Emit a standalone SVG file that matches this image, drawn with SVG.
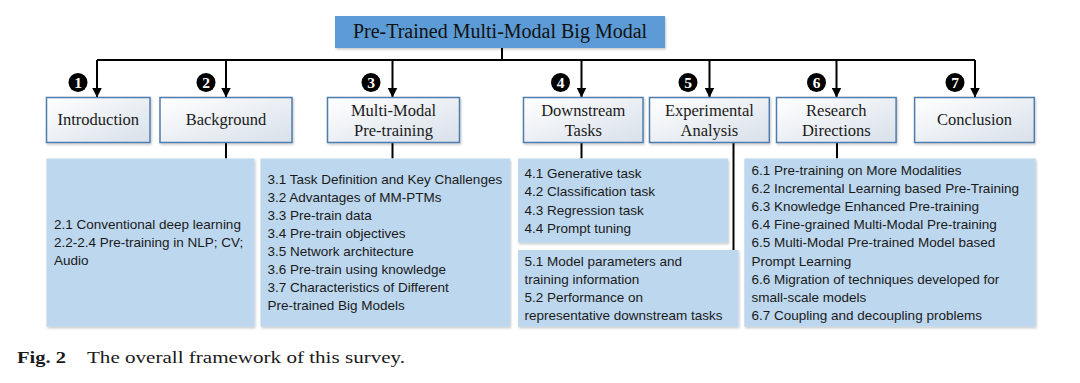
<svg xmlns="http://www.w3.org/2000/svg" width="1080" height="383" viewBox="0 0 1080 383">
<defs>
<linearGradient id="boxg" x1="0" y1="0" x2="1" y2="1">
<stop offset="0" stop-color="#ffffff"/>
<stop offset="1" stop-color="#d8e0ea"/>
</linearGradient>
<filter id="sh" x="-5%" y="-5%" width="115%" height="115%">
<feDropShadow dx="1" dy="1.5" stdDeviation="1" flood-color="#000" flood-opacity="0.22"/>
</filter>
<marker id="ah" viewBox="0 0 10 10" refX="10" refY="5" markerWidth="10" markerHeight="10" markerUnits="userSpaceOnUse" orient="auto">
<path d="M0,0 L10,5 L0,10 z" fill="#000"/>
</marker>
<style>
.box{fill:url(#boxg);stroke:#4f7cac;stroke-width:1.5;filter:url(#sh)}
.panel{fill:#bdd7ee;filter:url(#sh)}
.lbl{font-family:"Liberation Serif","Times New Roman",serif;font-size:16.5px;fill:#1a1a1a;text-anchor:middle}
.ptxt{font-family:"Liberation Sans",Arial,sans-serif;font-size:13.5px;fill:#1a1a1a}
.num{font-family:"Liberation Serif","Times New Roman",serif;font-size:15.5px;font-weight:bold;fill:#fff;text-anchor:middle}
.conn{stroke:#000;stroke-width:2;fill:none}
.cap{font-family:"Liberation Serif","Times New Roman",serif;font-size:17px;fill:#1a1a1a}
</style>
</defs>
<rect width="1080" height="383" fill="#fff"/>

<g id="title">
<rect x="335" y="16" width="330" height="32" fill="#5b9bd5" filter="url(#sh)"/>
<text x="500" y="38" font-family="Liberation Serif, Times New Roman, serif" font-size="20" text-anchor="middle" fill="#111">Pre-Trained Multi-Modal Big Modal</text>
</g>

<g id="connectors">
<path class="conn" d="M502,48 V60"/>
<path class="conn" d="M97,60 H975"/>
<path class="conn" d="M97,60 V97.5" marker-end="url(#ah)"/>
<path class="conn" d="M226,60 V97.5" marker-end="url(#ah)"/>
<path class="conn" d="M392.5,60 V97.5" marker-end="url(#ah)"/>
<path class="conn" d="M581.5,60 V97.5" marker-end="url(#ah)"/>
<path class="conn" d="M709.5,60 V97.5" marker-end="url(#ah)"/>
<path class="conn" d="M836.5,60 V97.5" marker-end="url(#ah)"/>
<path class="conn" d="M975,60 V97.5" marker-end="url(#ah)"/>
<path class="conn" d="M226,143 V158.5"/>
<path class="conn" d="M392.5,143 V158.5"/>
<path class="conn" d="M581.5,143 V158.5"/>
<path class="conn" d="M733.5,143 V250"/>
<path class="conn" d="M837,143 V158.5"/>
</g>

<g id="badges">
<circle cx="78" cy="82.5" r="9.5" fill="#000"/><text class="num" x="78" y="88">1</text>
<circle cx="206" cy="82.5" r="9.5" fill="#000"/><text class="num" x="206" y="88">2</text>
<circle cx="371" cy="82.5" r="9.5" fill="#000"/><text class="num" x="371" y="88">3</text>
<circle cx="560.5" cy="82.5" r="9.5" fill="#000"/><text class="num" x="560.5" y="88">4</text>
<circle cx="688" cy="82.5" r="9.5" fill="#000"/><text class="num" x="688" y="88">5</text>
<circle cx="816.5" cy="82.5" r="9.5" fill="#000"/><text class="num" x="816.5" y="88">6</text>
<circle cx="955" cy="82.5" r="9.5" fill="#000"/><text class="num" x="955" y="88">7</text>
</g>

<g id="introduction">
<rect class="box" x="46.5" y="97.5" width="103.5" height="45"/>
<text class="lbl" x="98.3" y="125">Introduction</text>
</g>
<g id="background">
<rect class="box" x="160" y="97.5" width="132" height="45"/>
<text class="lbl" x="226" y="125">Background</text>
</g>
<g id="mm-pretraining">
<rect class="box" x="327.5" y="97.5" width="132" height="45"/>
<text class="lbl" x="393.5" y="115.5">Multi-Modal</text>
<text class="lbl" x="393.5" y="135.5">Pre-training</text>
</g>
<g id="downstream">
<rect class="box" x="523.5" y="97.5" width="119.5" height="45"/>
<text class="lbl" x="583.3" y="115.5">Downstream</text>
<text class="lbl" x="583.3" y="135.5">Tasks</text>
</g>
<g id="experimental">
<rect class="box" x="649.5" y="97.5" width="119.8" height="45"/>
<text class="lbl" x="709.4" y="115.5">Experimental</text>
<text class="lbl" x="709.4" y="135.5">Analysis</text>
</g>
<g id="research">
<rect class="box" x="776.5" y="97.5" width="119.6" height="45"/>
<text class="lbl" x="836.3" y="115.5">Research</text>
<text class="lbl" x="836.3" y="135.5">Directions</text>
</g>
<g id="conclusion">
<rect class="box" x="914.6" y="97.5" width="119.7" height="45"/>
<text class="lbl" x="974.5" y="125">Conclusion</text>
</g>

<g id="panel2">
<rect class="panel" x="46.5" y="158.5" width="208" height="168.2"/>
<text class="ptxt" x="54" y="228.5">2.1 Conventional deep learning</text>
<text class="ptxt" x="54" y="246.7">2.2-2.4 Pre-training in NLP; CV;</text>
<text class="ptxt" x="54" y="264.9">Audio</text>
</g>
<g id="panel3">
<rect class="panel" x="260.5" y="158.5" width="249.5" height="168.2"/>
<text class="ptxt" x="267.5" y="184">3.1 Task Definition and Key Challenges</text>
<text class="ptxt" x="267.5" y="202">3.2 Advantages of MM-PTMs</text>
<text class="ptxt" x="267.5" y="220">3.3 Pre-train data</text>
<text class="ptxt" x="267.5" y="238">3.4 Pre-train objectives</text>
<text class="ptxt" x="267.5" y="256">3.5 Network architecture</text>
<text class="ptxt" x="267.5" y="274">3.6 Pre-train using knowledge</text>
<text class="ptxt" x="267.5" y="292">3.7 Characteristics of Different</text>
<text class="ptxt" x="267.5" y="310">Pre-trained Big Models</text>
</g>
<g id="panel4">
<rect class="panel" x="518" y="158.5" width="210" height="84.2"/>
<text class="ptxt" x="524.5" y="178">4.1 Generative task</text>
<text class="ptxt" x="524.5" y="196.3">4.2 Classification task</text>
<text class="ptxt" x="524.5" y="214.6">4.3 Regression task</text>
<text class="ptxt" x="524.5" y="232.9">4.4 Prompt tuning</text>
</g>
<g id="panel5">
<rect class="panel" x="518" y="250" width="220.5" height="76.7"/>
<text class="ptxt" x="524.5" y="265.5">5.1 Model parameters and</text>
<text class="ptxt" x="524.5" y="283.8">training information</text>
<text class="ptxt" x="524.5" y="302">5.2 Performance on</text>
<text class="ptxt" x="524.5" y="320.2">representative downstream tasks</text>
</g>
<g id="panel6">
<rect class="panel" x="744.3" y="158.5" width="291.4" height="168.2"/>
<text class="ptxt" x="751.5" y="174.5">6.1 Pre-training on More Modalities</text>
<text class="ptxt" x="751.5" y="192.7">6.2 Incremental Learning based Pre-Training</text>
<text class="ptxt" x="751.5" y="210.9">6.3 Knowledge Enhanced Pre-training</text>
<text class="ptxt" x="751.5" y="229.1">6.4 Fine-grained Multi-Modal Pre-training</text>
<text class="ptxt" x="751.5" y="247.3">6.5 Multi-Modal Pre-trained Model based</text>
<text class="ptxt" x="751.5" y="265.5">Prompt Learning</text>
<text class="ptxt" x="751.5" y="283.7">6.6 Migration of techniques developed for</text>
<text class="ptxt" x="751.5" y="301.9">small-scale models</text>
<text class="ptxt" x="751.5" y="320.1">6.7 Coupling and decoupling problems</text>
</g>

<g id="caption">
<text class="cap" x="17" y="363" font-weight="bold" textLength="49" lengthAdjust="spacingAndGlyphs">Fig. 2</text>
<text class="cap" x="87" y="363" textLength="318" lengthAdjust="spacingAndGlyphs">The overall framework of this survey.</text>
</g>
</svg>
